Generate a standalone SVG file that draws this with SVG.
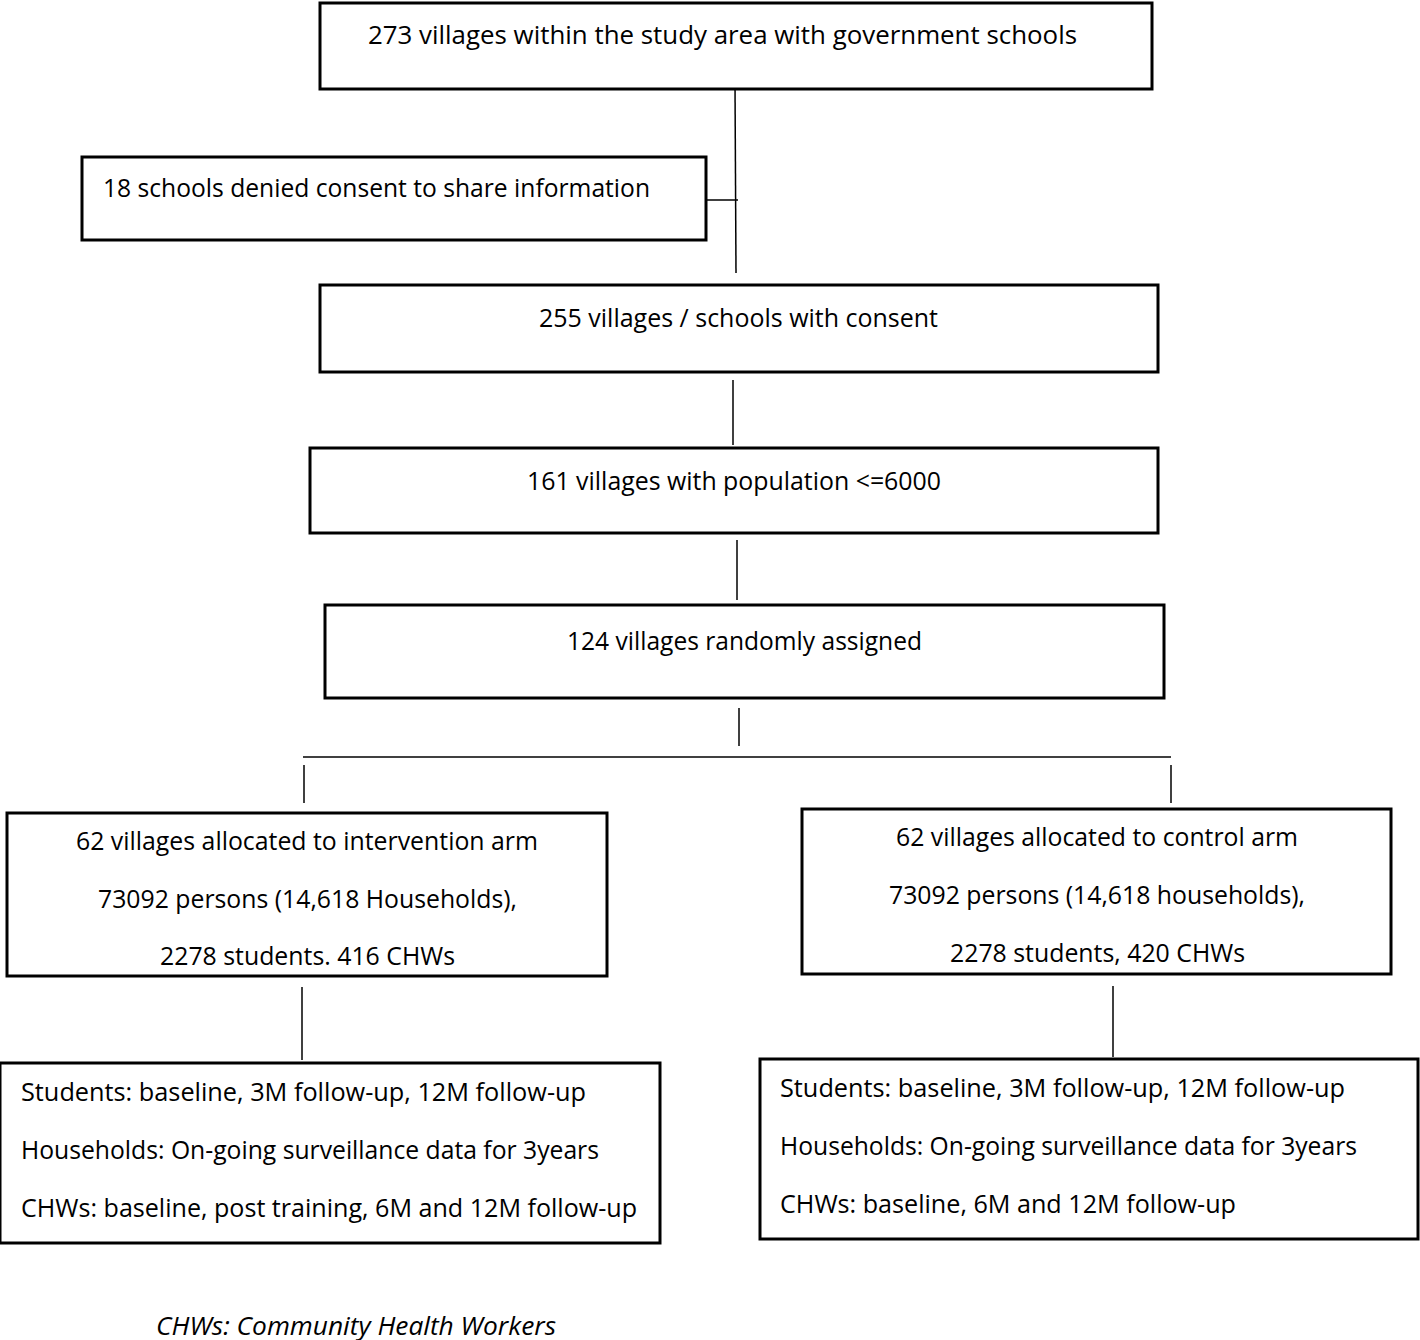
<svg xmlns="http://www.w3.org/2000/svg" width="1420" height="1340" viewBox="0 0 1420 1340">
<style>
.box{fill:#fff;stroke:#000;stroke-width:3}
.t{font-family:"Open Sans","Liberation Sans",sans-serif;font-size:25px;fill:#000}
.i{font-style:italic}
.c{stroke:#000;stroke-width:1.5;fill:none}
</style>
<rect width="1420" height="1340" fill="#fff"/>
<g id="connectors">
<line class="c" x1="735" y1="85" x2="736" y2="273"/>
<line class="c" x1="706" y1="200" x2="738" y2="200"/>
<line class="c" x1="733" y1="380" x2="733" y2="445"/>
<line class="c" x1="737" y1="540" x2="737" y2="600"/>
<line class="c" x1="739" y1="708" x2="739" y2="746"/>
<line class="c" x1="303" y1="757" x2="1171" y2="757"/>
<line class="c" x1="304" y1="765" x2="304" y2="803"/>
<line class="c" x1="1171" y1="765" x2="1171" y2="803"/>
<line class="c" x1="302" y1="987" x2="302" y2="1060"/>
<line class="c" x1="1113" y1="986" x2="1113" y2="1057"/>
</g>
<g id="n273">
<rect class="box" x="320" y="3" width="832" height="86"/>
<text class="t" x="368" y="44" textLength="709" lengthAdjust="spacingAndGlyphs">273 villages within the study area with government schools</text>
</g>
<g id="n18">
<rect class="box" x="82" y="157" width="624" height="83"/>
<text class="t" x="103" y="197" textLength="547" lengthAdjust="spacingAndGlyphs">18 schools denied consent to share information</text>
</g>
<g id="n255">
<rect class="box" x="320" y="285" width="838" height="87"/>
<text class="t" x="539" y="327" textLength="399" lengthAdjust="spacingAndGlyphs">255 villages / schools with consent</text>
</g>
<g id="n161">
<rect class="box" x="310" y="448" width="848" height="85"/>
<text class="t" x="527" y="490" textLength="414" lengthAdjust="spacingAndGlyphs">161 villages with population &lt;=6000</text>
</g>
<g id="n124">
<rect class="box" x="325" y="605" width="839" height="93"/>
<text class="t" x="567" y="650" textLength="355" lengthAdjust="spacingAndGlyphs">124 villages randomly assigned</text>
</g>
<g id="intervention">
<rect class="box" x="7" y="813" width="600" height="163"/>
<text class="t" x="76" y="850" textLength="462" lengthAdjust="spacingAndGlyphs">62 villages allocated to intervention arm</text>
<text class="t" x="98" y="908" textLength="419" lengthAdjust="spacingAndGlyphs">73092 persons (14,618 Households),</text>
<text class="t" x="160" y="965" textLength="295" lengthAdjust="spacingAndGlyphs">2278 students. 416 CHWs</text>
</g>
<g id="control">
<rect class="box" x="802" y="809" width="589" height="165"/>
<text class="t" x="896" y="846" textLength="402" lengthAdjust="spacingAndGlyphs">62 villages allocated to control arm</text>
<text class="t" x="889" y="904" textLength="416" lengthAdjust="spacingAndGlyphs">73092 persons (14,618 households),</text>
<text class="t" x="950" y="962" textLength="295" lengthAdjust="spacingAndGlyphs">2278 students, 420 CHWs</text>
</g>
<g id="intervention-followup">
<rect class="box" x="0" y="1063" width="660" height="180"/>
<text class="t" x="21" y="1101" textLength="565" lengthAdjust="spacingAndGlyphs">Students: baseline, 3M follow-up, 12M follow-up</text>
<text class="t" x="21" y="1159" textLength="578" lengthAdjust="spacingAndGlyphs">Households: On-going surveillance data for 3years</text>
<text class="t" x="21" y="1217" textLength="616" lengthAdjust="spacingAndGlyphs">CHWs: baseline, post training, 6M and 12M follow-up</text>
</g>
<g id="control-followup">
<rect class="box" x="760" y="1059" width="658" height="180"/>
<text class="t" x="780" y="1097" textLength="565" lengthAdjust="spacingAndGlyphs">Students: baseline, 3M follow-up, 12M follow-up</text>
<text class="t" x="780" y="1155" textLength="577" lengthAdjust="spacingAndGlyphs">Households: On-going surveillance data for 3years</text>
<text class="t" x="780" y="1213" textLength="456" lengthAdjust="spacingAndGlyphs">CHWs: baseline, 6M and 12M follow-up</text>
</g>
<g id="footnote">
<text class="t i" x="156" y="1335" textLength="400" lengthAdjust="spacingAndGlyphs">CHWs: Community Health Workers</text>
</g>
</svg>
